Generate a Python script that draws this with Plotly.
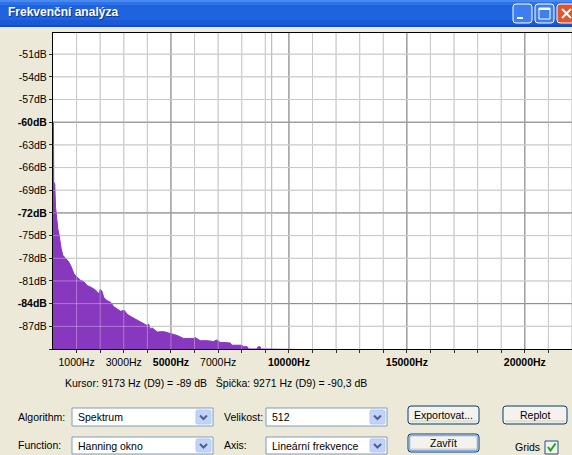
import plotly.graph_objects as go

# ---------------- data ----------------
freq_hz = [0, 20, 30, 75, 106, 140, 176, 210, 247, 289, 346, 416, 470, 529, 600, 670,
           769, 882, 1023, 1164, 1305, 1446, 1587, 1700, 1799, 1940, 2010, 2081, 2151,
           2292, 2433, 2575, 2716, 2857, 3026, 3139, 3351, 3562, 3774, 3985, 4056, 4126,
           4197, 4420, 4690, 4970, 5044, 5255, 5530, 5819, 5950, 6031, 6242, 6524, 6806,
           6950, 7090, 7300, 7510, 7580, 7794, 8010, 8070, 8230, 8288, 8640, 8700, 8780,
           8800, 22050]
level_db = [-60.0, -60.0, -67.9, -68.2, -71.2, -72.3, -73.4, -74.2, -74.7, -75.6, -76.7,
            -77.6, -77.8, -78.0, -78.2, -78.5, -79.1, -80.0, -80.5, -80.9, -81.1, -81.6,
            -81.8, -82.0, -82.2, -82.7, -82.1, -82.4, -83.2, -83.6, -83.8, -84.4, -84.7,
            -85.0, -84.9, -85.4, -85.8, -86.2, -86.6, -86.9, -86.7, -87.4, -87.2, -87.75,
            -87.7, -87.9, -87.96, -88.2, -88.6, -88.6, -88.6, -88.5, -88.9, -88.9, -89.0,
            -88.8, -89.15, -89.15, -89.2, -89.5, -89.5, -89.5, -89.7, -89.7, -90.0, -90.0,
            -89.7, -89.7, -90.0, -90.5]

x_tick_vals = [1000, 3000, 5000, 7000, 10000, 15000, 20000]
x_tick_text = ["1000Hz", "3000Hz", "<b>5000Hz</b>", "7000Hz",
               "<b>10000Hz</b>", "<b>15000Hz</b>", "<b>20000Hz</b>"]
y_tick_vals = [-90, -87, -84, -81, -78, -75, -72, -69, -66, -63, -60, -57, -54, -51]
y_tick_text = ["", "-87dB", "<b>-84dB</b>", "-81dB", "-78dB", "-75dB", "<b>-72dB</b>",
               "-69dB", "-66dB", "-63dB", "<b>-60dB</b>", "-57dB", "-54dB", "-51dB"]

grid_minor_hz = [1000, 2000, 3000, 4000, 6000, 7000, 8000, 9000, 11000, 12000, 13000,
                 14000, 16000, 17000, 18000, 19000, 21000, 22000]
grid_major_hz = [5000, 10000, 15000, 20000]
grid_minor_db = [-87, -81, -78, -75, -69, -66, -63, -57, -54, -51]
grid_major_db = [-84, -72, -60]
cursor_hz = 9271

cursor_text = "Kursor: 9173 Hz (D9) = -89 dB   Špička: 9271 Hz (D9) = -90,3 dB"

# ---------------- geometry helpers (pixels -> paper) ----------------
W, H = 572, 455
PL, PR, PT, PB = 53, 572, 33, 349
FONT = "Liberation Sans"
FS = 10.5


def X(px):
    return (px - PL) / (PR - PL)


def Y(py):
    return (PB - py) / (PB - PT)


shapes = []
annotations = []


def rect(x0, y0, x1, y1, fill, line=None, lw=1, layer="above"):
    shapes.append(dict(type="rect", xref="paper", yref="paper",
                       x0=X(x0), x1=X(x1), y0=Y(y1), y1=Y(y0),
                       fillcolor=fill, layer=layer,
                       line=dict(color=line if line else fill, width=lw if line else 0)))


def path(points, color, lw=1, fill=None, closed=False):
    d = "M " + " L ".join(f"{X(a):.5f},{Y(b):.5f}" for a, b in points)
    if closed:
        d += " Z"
    shapes.append(dict(type="path", xref="paper", yref="paper", path=d, layer="above",
                       fillcolor=fill if fill else "rgba(0,0,0,0)",
                       line=dict(color=color, width=lw)))


def rrect(x0, y0, x1, y1, r, fill, line, lw=1):
    def p(a, b):
        return f"{X(a):.5f},{Y(b):.5f}"
    d = (f"M {p(x0 + r, y0)} L {p(x1 - r, y0)} Q {p(x1, y0)} {p(x1, y0 + r)} "
         f"L {p(x1, y1 - r)} Q {p(x1, y1)} {p(x1 - r, y1)} L {p(x0 + r, y1)} "
         f"Q {p(x0, y1)} {p(x0, y1 - r)} L {p(x0, y0 + r)} Q {p(x0, y0)} {p(x0 + r, y0)} Z")
    shapes.append(dict(type="path", xref="paper", yref="paper", path=d, layer="above",
                       fillcolor=fill, line=dict(color=line, width=lw)))


def text(x, y, s, size=FS, color="black", anchor="left", family=FONT):
    annotations.append(dict(xref="paper", yref="paper", x=X(x), y=Y(y), text=s,
                            showarrow=False, xanchor=anchor, yanchor="middle",
                            font=dict(family=family, size=size, color=color)))


# ---------------- grid (drawn through the data axes) ----------------
LIGHT_BELOW = "#ADADAD"
DARK_BELOW = "#4E4E4E"
for f in grid_minor_hz:
    shapes.append(dict(type="line", xref="x", yref="paper", x0=f, x1=f, y0=0, y1=1,
                       layer="below", line=dict(color=LIGHT_BELOW, width=1)))
for f in grid_major_hz:
    shapes.append(dict(type="line", xref="x", yref="paper", x0=f, x1=f, y0=0, y1=1,
                       layer="below", line=dict(color=DARK_BELOW, width=1)))
for d in grid_minor_db:
    shapes.append(dict(type="line", xref="paper", yref="y", x0=0, x1=1, y0=d, y1=d,
                       layer="below", line=dict(color=LIGHT_BELOW, width=1)))
for d in grid_major_db:
    shapes.append(dict(type="line", xref="paper", yref="y", x0=0, x1=1, y0=d, y1=d,
                       layer="below", line=dict(color=DARK_BELOW, width=1)))
shapes.append(dict(type="line", xref="x", yref="paper", x0=cursor_hz, x1=cursor_hz,
                   y0=0, y1=1, layer="below", line=dict(color=LIGHT_BELOW, width=1)))
# translucent white overlay so the grid shows through the spectrum fill
WHITE_OVER = "rgba(255,255,255,0.33)"
for f in grid_minor_hz + grid_major_hz:
    shapes.append(dict(type="line", xref="x", yref="paper", x0=f, x1=f, y0=0, y1=1,
                       layer="above", line=dict(color=WHITE_OVER, width=1)))
for d in grid_minor_db + grid_major_db:
    shapes.append(dict(type="line", xref="paper", yref="y", x0=0, x1=1, y0=d, y1=d,
                       layer="above", line=dict(color=WHITE_OVER, width=1)))

# ---------------- title bar ----------------
bar = [(0, 2, "#4A8AF0"), (2, 5, "#2E72E8"), (5, 20, "#1F63DF"), (20, 25, "#1A5AD6"),
       (25, 27, "#154BC2")]
for y0, y1, c in bar:
    rect(0, y0, W, y1, c)
text(7, 13, "<b>Frekvenční analýza</b>", size=12, color="rgba(0,0,40,0.5)")
text(6, 12, "<b>Frekvenční analýza</b>", size=12, color="white")
# minimize
rrect(513, 4, 532, 23, 3, "#3F7EEE", "white", 1)
rect(517, 17, 523, 19, "white")
# maximize
rrect(535, 4, 554, 23, 3, "#3F7EEE", "white", 1)
rect(539, 8, 550, 19, "rgba(0,0,0,0)", "white", 1)
rect(539, 8, 550, 10, "white")
# close
rrect(557, 4, 578, 23, 3, "#E4552D", "white", 1)
path([(562, 9), (571, 18)], "white", 2)
path([(571, 9), (562, 18)], "white", 2)

# ---------------- status text ----------------
text(63, 383, cursor_text)

# ---------------- controls ----------------
def combo(x0, y0, x1, y1, label):
    rect(x0, y0, x1, y1, "white", "#7F9DB9", 1)
    rrect(x1 - 17, y0 + 2, x1 - 2, y1 - 2, 1.5, "#C1D3FB", "#B4C8F6", 1)
    cx, cy = x1 - 9.5, (y0 + y1) / 2
    path([(cx - 3.5, cy - 1.5), (cx, cy + 2), (cx + 3.5, cy - 1.5)], "#4D6185", 2)
    text(x0 + 4, (y0 + y1) / 2, label)


text(16, 417, "Algorithm:")
text(16, 445, "Function:")
combo(72, 408, 213, 426, "Spektrum")
combo(72, 437, 213, 454, "Hanning okno")
text(222, 417, "Velikost:")
text(222, 445, "Axis:")
combo(266, 408, 387, 426, "512")
combo(266, 437, 387, 454, "Lineární frekvence")


def button(x0, y0, x1, y1, label, focus=False):
    rrect(x0, y0, x1, y1, 3, "#F3F2EC", "#003C74", 1)
    rect(x0 + 2, y1 - 4, x1 - 2, y1 - 1.5, "#E3E1D6")
    if focus:
        rrect(x0 + 1.5, y0 + 1.5, x1 - 1.5, y1 - 1.5, 2, "rgba(0,0,0,0)", "#8CA9EC", 1.5)
    text((x0 + x1) / 2, (y0 + y1) / 2, label, anchor="center")


button(408, 406, 479, 424, "Exportovat...")
button(503, 406, 567, 424, "Replot")
button(408, 434, 479, 452, "Zavřít", focus=True)
text(542, 447, "Grids", anchor="right")
rect(545, 441, 558, 454, "#F2F2EC", "#1C5180", 1)
path([(548, 447), (550.5, 450.5), (555.5, 443.5)], "#21A121", 2)

# ---------------- figure ----------------
fig = go.Figure()
fig.add_trace(go.Scatter(x=[0, 22050], y=[-95, -95], mode="lines",
                         line=dict(width=0, color="rgba(0,0,0,0)"), hoverinfo="skip",
                         showlegend=False))
fig.add_trace(go.Scatter(x=freq_hz, y=level_db, mode="lines", fill="tonexty",
                         fillcolor="#8738BE", line=dict(color="#8738BE", width=1),
                         showlegend=False))

fig.update_layout(
    width=W, height=H,
    margin=dict(l=PL, r=W - PR, t=PT, b=H - PB, pad=0),
    paper_bgcolor="#ECE9D8", plot_bgcolor="white",
    font=dict(family=FONT, size=FS, color="black"),
    shapes=shapes, annotations=annotations,
    xaxis=dict(range=[0, 22000], tickmode="array", tickvals=x_tick_vals,
               ticktext=x_tick_text, ticks="outside", ticklen=3, tickcolor="#303030",
               showgrid=False, zeroline=False, showline=True, linecolor="black",
               linewidth=1, mirror=True, fixedrange=True,
               tickfont=dict(family=FONT, size=FS, color="black"),
               minor=dict(tickmode="array", tickvals=grid_minor_hz + grid_major_hz,
                          ticks="outside", ticklen=3, tickcolor="#303030",
                          showgrid=False)),
    yaxis=dict(range=[-90, -48.2], tickmode="array", tickvals=y_tick_vals,
               ticktext=y_tick_text, ticks="outside", ticklen=3, tickcolor="#303030",
               showgrid=False, zeroline=False, showline=True, linecolor="black",
               linewidth=1, fixedrange=True,
               tickfont=dict(family=FONT, size=FS, color="black")),
)

fig.write_html("out.html", config={"displayModeBar": False},
               post_script="document.body.style.margin='0';document.body.style.padding='0';document.body.style.overflow='hidden';")
